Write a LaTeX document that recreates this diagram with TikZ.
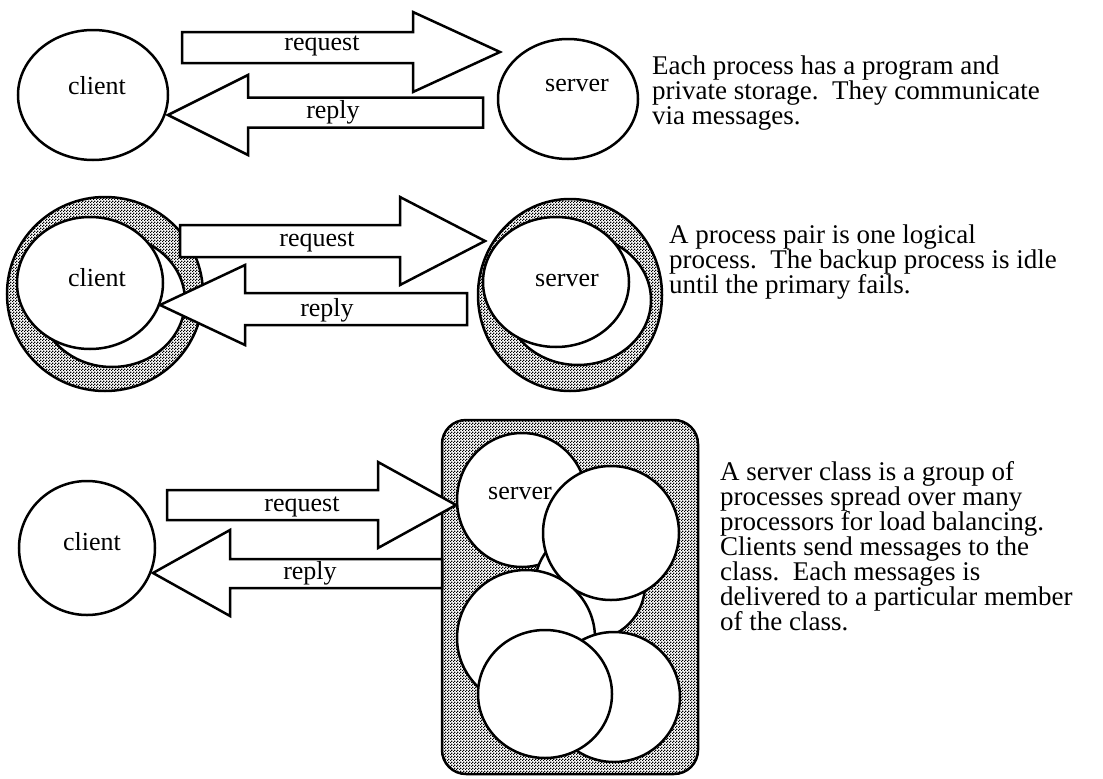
\documentclass[tikz,border=0pt]{standalone}
\usepackage{fontspec}
\setmainfont{Liberation Serif}
\usetikzlibrary{patterns,shapes.geometric,calc}

% fine checkered stipple used for the shaded areas
\pgfdeclarepatternformonly{stipple}{\pgfpointorigin}{\pgfpoint{3pt}{3pt}}{\pgfpoint{3pt}{3pt}}{%
  \pgfpathrectangle{\pgfpointorigin}{\pgfpoint{1.5pt}{1.5pt}}%
  \pgfpathrectangle{\pgfpoint{1.5pt}{1.5pt}}{\pgfpoint{1.5pt}{1.5pt}}%
  \pgfusepath{fill}}

\begin{document}
\begin{tikzpicture}[x=1pt,y=-1pt,line join=miter,
  proc/.style={ellipse,draw,line width=2.5pt,fill=white,inner sep=0pt},
  shaded/.style={draw,line width=2.5pt,preaction={fill=white},pattern=stipple,pattern color=black},
  fat/.style={draw,line width=2.5pt,fill=white},
  lbl/.style={font=\fontsize{26}{26}\selectfont,inner sep=0pt},
  desc/.style={font=\fontsize{27}{25}\selectfont,inner sep=0pt,anchor=north west,align=left}]

\useasboundingbox[fill=white] (0,0) rectangle (1103,779);

% ---------- row 1: plain client and server ----------
\node[proc,minimum width=150pt,minimum height=130pt] (c1) at (93,95) {};
\node[proc,minimum width=140pt,minimum height=120pt] (s1) at (568,99) {};
\node[lbl] (c1t) at (97,86) {client};
\node[lbl] (s1t) at (577,86) {server};

\coordinate (rq1-tail) at (182,47.5);
\coordinate (rq1-tip) at (500,52);
\draw[fat] (rq1-tip) -- ++(-87,-40) |- ($(rq1-tail)+(0,-15.5)$) -- ++(0,31)
  -| ($(rq1-tip)+(-87,40)$) -- cycle;
\coordinate (rp1-tip) at (168,115);
\coordinate (rp1-tail) at (483,112.5);
\draw[fat] (rp1-tip) -- ++(80,-40) |- ($(rp1-tail)+(0,-15)$) -- ++(0,30)
  -| ($(rp1-tip)+(80,40)$) -- cycle;
\node[lbl] (rq1t) at (322,46) {request};
\node[lbl] (rp1t) at (333,112) {reply};

\node[desc] (d1) at (652,56) {Each process has a program and\\
private storage.\ \ They communicate\\
via messages.};

% ---------- row 2: process pairs ----------
\node[ellipse,shaded,minimum width=196pt,minimum height=194pt,inner sep=0pt] (c2o) at (105,294) {};
\node[proc,minimum width=146pt,minimum height=132pt] (c2b) at (112,301) {};
\node[proc,minimum width=146pt,minimum height=132pt] (c2p) at (90,283) {};
\node[lbl] (c2t) at (97,278) {client};

\node[ellipse,shaded,minimum width=184pt,minimum height=192pt,inner sep=0pt] (s2o) at (570,295) {};
\node[proc,minimum width=146pt,minimum height=130pt] (s2b) at (578,300) {};
\node[proc,minimum width=146pt,minimum height=130pt] (s2p) at (556,282) {};
\node[lbl] (s2t) at (567,280) {server};

\coordinate (rq2-tail) at (180,241);
\coordinate (rq2-tip) at (485,241);
\draw[fat] (rq2-tip) -- ++(-85,-44) |- ($(rq2-tail)+(0,-16)$) -- ++(0,32)
  -| ($(rq2-tip)+(-85,44)$) -- cycle;
\coordinate (rp2-tip) at (160,305);
\coordinate (rp2-tail) at (467,309);
\draw[fat] (rp2-tip) -- ++(85,-40) |- ($(rp2-tail)+(0,-16)$) -- ++(0,32)
  -| ($(rp2-tip)+(85,40)$) -- cycle;
\node[lbl] (rq2t) at (317,242) {request};
\node[lbl] (rp2t) at (327,310) {reply};

\node[desc] (d2) at (669,225) {A process pair is one logical\\
process.\ \ The backup process is idle\\
until the primary fails.};

% ---------- row 3: server class ----------
\node[proc,minimum width=136pt,minimum height=134pt] (c3) at (87,548) {};
\node[lbl] (c3t) at (92,542) {client};

\node[shaded,rectangle,rounded corners=24pt,minimum width=256pt,minimum height=354pt,inner sep=0pt] (cls) at (570,597) {};
\node[proc,minimum width=130pt,minimum height=134pt] (m1) at (522,500) {};
\node[lbl] (m1t) at (520,493) {server};
\node[proc,minimum width=110pt,minimum height=110pt] (m4) at (590,585) {};
\node[proc,minimum width=136pt,minimum height=134pt] (m2) at (611,533) {};
\node[proc,minimum width=138pt,minimum height=136pt] (m3) at (526,638) {};
\node[proc,minimum width=132pt,minimum height=130pt] (m6) at (614,697) {};
\node[proc,minimum width=134pt,minimum height=128pt] (m5) at (545,694) {};

\coordinate (rq3-tail) at (167,505);
\coordinate (rq3-tip) at (456,505);
\draw[fat] (rq3-tip) -- ++(-78,-43) |- ($(rq3-tail)+(0,-15)$) -- ++(0,30)
  -| ($(rq3-tip)+(-78,43)$) -- cycle;
\coordinate (rp3-tip) at (153,573);
\coordinate (rp3-tail) at (442,573.5);
\draw[fat] (rp3-tip) -- ++(77,-43) |- ($(rp3-tail)+(0,-14.5)$) -- ++(0,29)
  -| ($(rp3-tip)+(77,43)$) -- cycle;
\node[lbl] (rq3t) at (302,507) {request};
\node[lbl] (rp3t) at (310,573) {reply};

\node[desc] (d3) at (720,461) {A server class is a group of\\
processes spread over many\\
processors for load balancing.\\
Clients send messages to the\\
class.\ \ Each messages is\\
delivered to a particular member\\
of the class.};
\end{tikzpicture}
\end{document}
